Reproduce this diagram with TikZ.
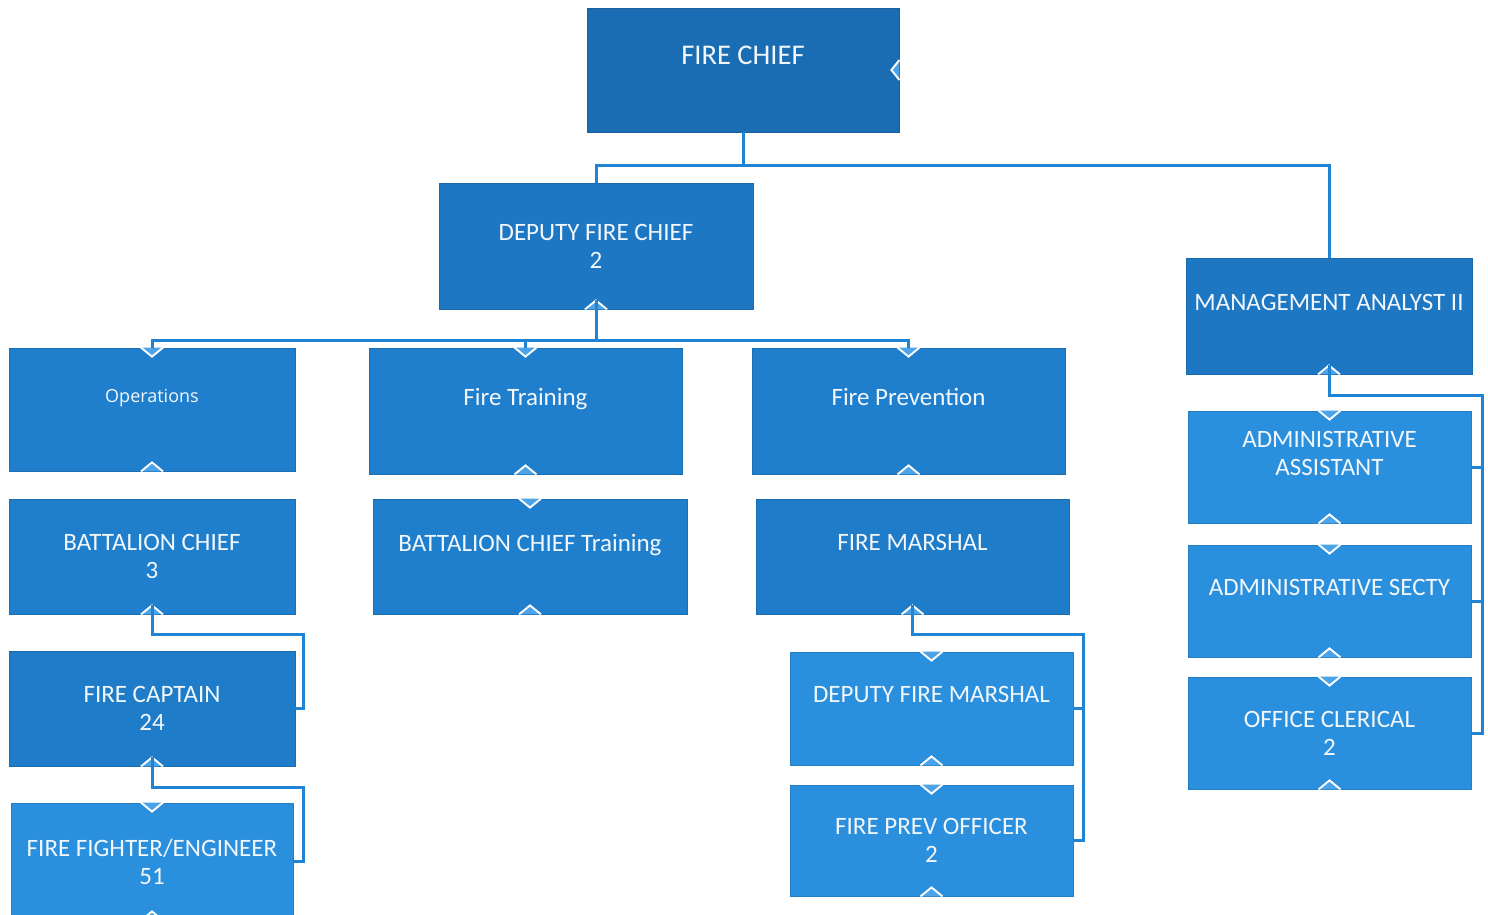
\documentclass[tikz,border=0pt]{standalone}
\usepackage{fontspec}
\setmainfont{Carlito}
\newfontfamily\opsfont{Open Sans}
\usetikzlibrary{calc}

\definecolor{cChief}{HTML}{1B6DB3}
\definecolor{cDeputy}{HTML}{1E77C3}
\definecolor{cMid}{HTML}{1F7FCC}
\definecolor{cLow}{HTML}{1F7CC8}
\definecolor{cLight}{HTML}{2A8FDC}
\definecolor{cLine}{HTML}{2183D4}
\definecolor{cChev}{HTML}{4CA3E8}
\definecolor{cText}{HTML}{F2F7FC}

\tikzset{
  box/.style={rectangle, fill=#1, draw=#1!88!black, line width=0.8pt,
    text=cText, align=center, inner sep=0pt,
    font=\fontsize{25}{28}\selectfont},
  sz/.style 2 args={minimum width=#1, minimum height=#2},
  conn/.style={draw=cLine, line width=3pt},
  chevline/.style={draw=white, line width=1.9pt, line join=miter, fill=cChev},
  downchev/.pic={\draw[chevline] (-11,0) -- (0,9) -- (11,0);},
  upchev/.pic={\draw[chevline] (-11,0) -- (0,-9) -- (11,0);},
  leftchev/.pic={\draw[chevline] (0,-10) -- (-8,0) -- (0,10);},
}

\begin{document}
\begin{tikzpicture}[x=1pt,y=-1pt]
\useasboundingbox (0,0) rectangle (1488,915);
\fill[white] (0,0) rectangle (1488,915);

% boxes
\node[box=cChief, sz={312}{124}, font=\fontsize{28.5}{30}\selectfont] (chief) at (743,70) {FIRE CHIEF\\\phantom{2}};
\node[box=cDeputy, sz={314}{126}] (deputy) at (596,246) {DEPUTY FIRE CHIEF\\2};
\node[box=cDeputy, sz={286}{116}] (mgmt) at (1329,316) {MANAGEMENT ANALYST II\\\phantom{2}};

\node[box=cMid, sz={286}{123}, font=\opsfont\fontsize{18}{28}\selectfont] (ops) at (152,409.5) {Operations\\\phantom{2}};
\node[box=cMid, sz={313}{126}] (training) at (525.5,411) {Fire Training\\\phantom{2}};
\node[box=cMid, sz={313}{126}] (prevention) at (908.5,411) {Fire Prevention\\\phantom{2}};

\node[box=cMid, sz={286}{115}] (battalion) at (152,556.5) {BATTALION CHIEF\\3};
\node[box=cMid, sz={314}{115}] (bctraining) at (530,556.5) {BATTALION CHIEF Training\\\phantom{2}};
\node[box=cLow, sz={313}{115}] (marshal) at (912.5,556.5) {FIRE MARSHAL\\\phantom{2}};

\node[box=cLow, sz={286}{115}] (captain) at (152,708.5) {FIRE CAPTAIN\\24};
\node[box=cLight, sz={282}{117}] (firefighter) at (152,861.5) {FIRE FIGHTER/ENGINEER\\51};

\node[box=cLight, sz={283}{113}] (depmarshal) at (931.5,708.5) {DEPUTY FIRE MARSHAL\\\phantom{2}};
\node[box=cLight, sz={283}{111}] (prevofficer) at (931.5,840.5) {FIRE PREV OFFICER\\2};

\node[box=cLight, sz={283}{112}] (adminasst) at (1329.5,467) {ADMINISTRATIVE\\ASSISTANT\\\phantom{2}};
\node[box=cLight, sz={283}{112}] (adminsecty) at (1329.5,601) {ADMINISTRATIVE SECTY\\\phantom{2}};
\node[box=cLight, sz={283}{112}] (clerical) at (1329.5,733) {OFFICE CLERICAL\\2};

% connection markers
\pic at ($(chief.east)+(0,0)$) {leftchev};
\foreach \n in {ops,training,prevention,bctraining,firefighter,depmarshal,prevofficer,adminasst,adminsecty,clerical}
  \pic at (\n.north) {downchev};
\foreach \n in {deputy,mgmt,ops,training,prevention,battalion,bctraining,marshal,captain,firefighter,depmarshal,prevofficer,adminasst,adminsecty,clerical}
  \pic at (\n.south) {upchev};

% bend points of the connectors
\coordinate (cBus) at (743,165);
\coordinate (dBus) at (596,340);
\coordinate (capBend) at (303,634);
\coordinate (ffBend) at (303,787);
\coordinate (fmBend) at (1083,634);
\coordinate (maBend) at (1482,395);

% fire chief to deputy and analyst
\draw[conn] (chief.south) -- (cBus);
\draw[conn] (deputy.north) |- (cBus) -| (mgmt.north);

% deputy to divisions
\draw[conn] ($(deputy.south)+(0,-9)$) -- (dBus);
\draw[conn] (ops.north) |- (dBus) -| (prevention.north);
\draw[conn] (dBus -| training.north) -- (training.north);

% operations chain
\draw[conn] ($(battalion.south)+(0,-9)$) |- (capBend) |- (captain.east);
\draw[conn] ($(captain.south)+(0,-9)$) |- (ffBend) |- (firefighter.east);

% fire marshal staff
\draw[conn] ($(marshal.south)+(0,-9)$) |- (fmBend) |- (prevofficer.east);
\draw[conn] (fmBend |- depmarshal.east) -- (depmarshal.east);

% analyst staff
\draw[conn] ($(mgmt.south)+(0,-9)$) |- (maBend) |- (clerical.east);
\draw[conn] (maBend |- adminasst.east) -- (adminasst.east);
\draw[conn] (maBend |- adminsecty.east) -- (adminsecty.east);
\end{tikzpicture}
\end{document}
